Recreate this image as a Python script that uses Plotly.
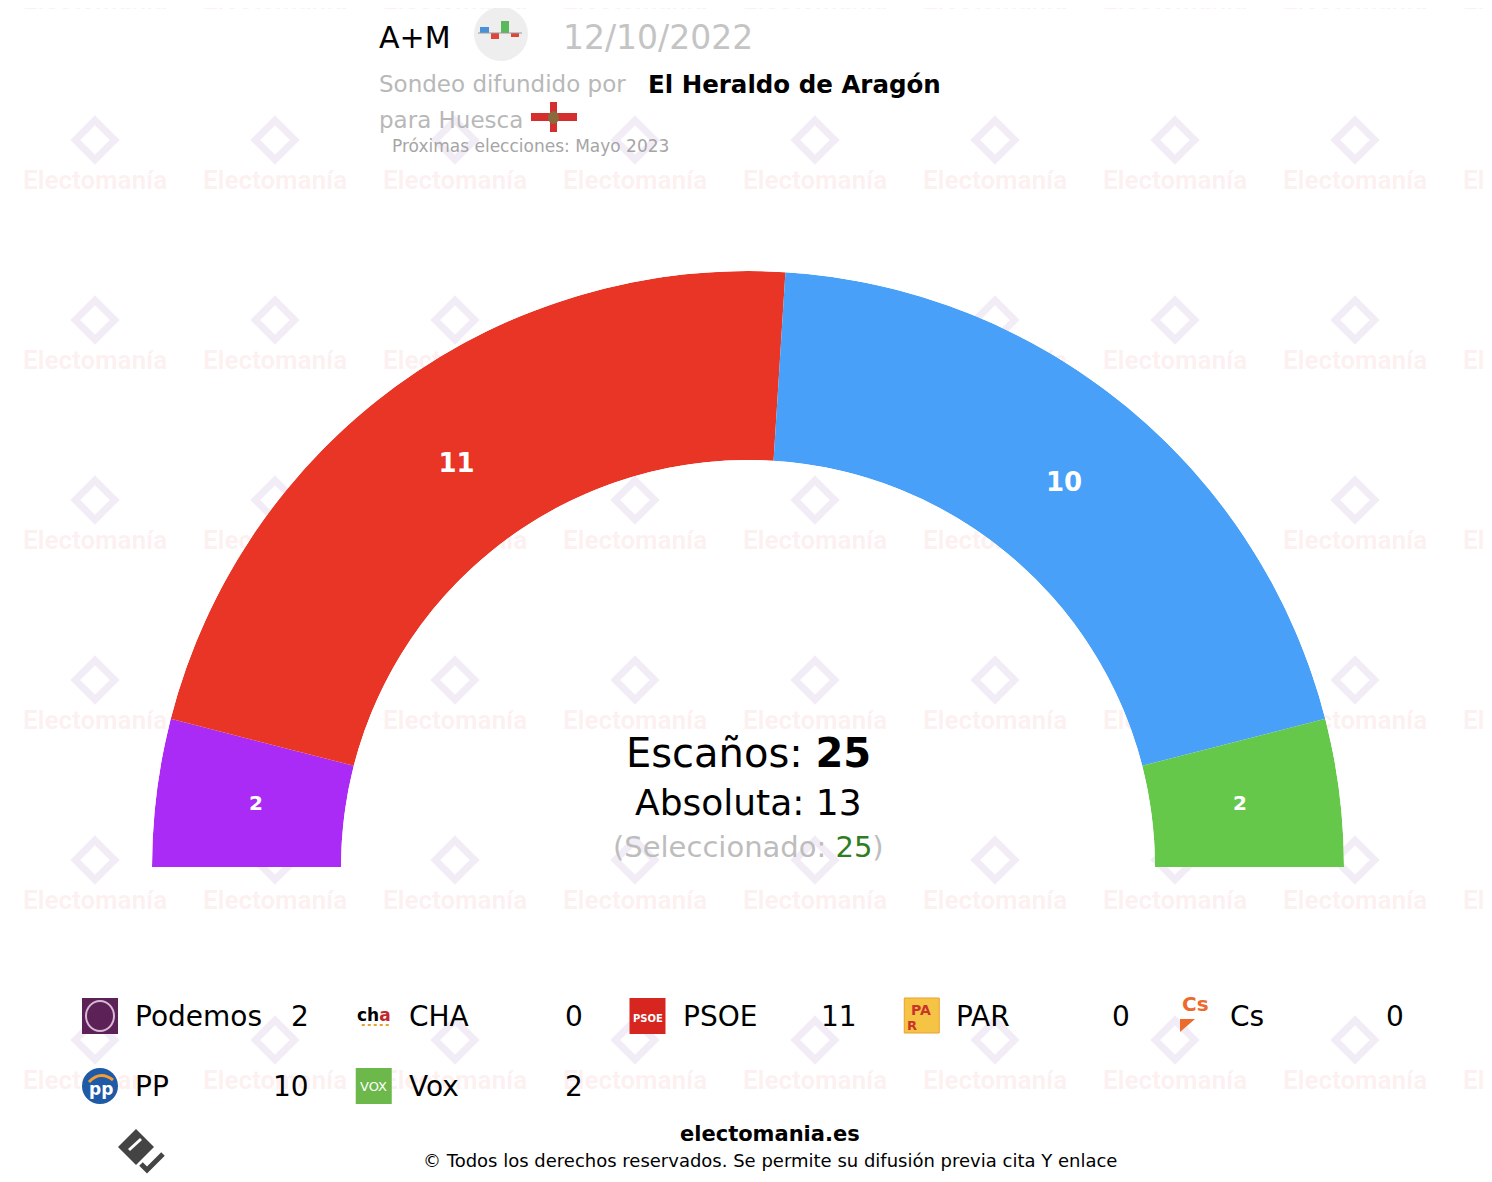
import plotly.graph_objects as go

# datos del sondeo
parties = ["Podemos", "CHA", "PSOE", "PAR", "Cs", "PP", "Vox"]
seats = [2, 0, 11, 0, 0, 10, 2]
colors = ["#aa2bf5", "#b5121b", "#e83526", "#f5b800", "#eb6109", "#48a0f8", "#66c84a"]

pollster = "A+M"
poll_date = "12/10/2022"
media = "El Heraldo de Aragón"
place = "Huesca"
next_election = "Mayo 2023"
selected = 25

total = sum(seats)
majority = total // 2 + 1
deg = 180 / total

W, H = 1492, 1182
OFF = 8  # margen del body de la página
FONT = "DejaVu Sans"

# posiciones de cada arco en grados (0 = izquierda, 180 = derecha)
theta_mid, widths, start = [], [], 0
for s in seats:
    theta_mid.append((start + s / 2) * deg)
    widths.append(s * deg)
    start += s

shown = [i for i, s in enumerate(seats) if s > 0]

fig = go.Figure()

# marca de agua de fondo
wm_x, wm_y, logo_y = [], [], []
for j in range(7):
    for k in range(9):
        wm_x.append(95 + 180 * k)
        wm_y.append(2 + 180 * j)
        logo_y.append(2 + 180 * j - 42)
fig.add_trace(go.Scatter(
    x=wm_x, y=logo_y, mode="markers", hoverinfo="skip",
    marker=dict(symbol="square-open", angle=45, size=28,
                color="rgba(190,160,215,0.2)", line=dict(width=7, color="rgba(200,165,215,0.2)")),
))
fig.add_trace(go.Scatter(
    x=wm_x, y=wm_y, mode="text", text=["<b>Electomanía</b>"] * len(wm_x), hoverinfo="skip",
    textfont=dict(family="Roboto", size=26, color="rgba(240,140,140,0.13)"),
))

fig.add_trace(go.Barpolar(
    theta=[theta_mid[i] for i in shown],
    width=[widths[i] for i in shown],
    r=[1] * len(shown),
    base=0,
    marker=dict(color=[colors[i] for i in shown], line=dict(width=0)),
    text=[parties[i] for i in shown],
    hoverinfo="text",
))
fig.add_trace(go.Scatterpolar(
    theta=[theta_mid[i] for i in shown],
    r=[0.47] * len(shown),
    mode="text",
    text=["<b>%d</b>" % seats[i] for i in shown],
    textfont=dict(family=FONT, color="white",
                  size=[26 if seats[i] > 5 else 20 for i in shown]),
    hoverinfo="skip",
))

ann = []
shapes = []


def txt(x, y, t, size, color="black", anchor="left"):
    ann.append(dict(x=x, y=y, xref="x", yref="y", text=t, showarrow=False,
                    xanchor=anchor, yanchor="middle",
                    font=dict(family=FONT, size=size, color=color)))


def rect(x0, y0, x1, y1, color, line=None):
    shapes.append(dict(type="rect", xref="x", yref="y", x0=x0, y0=y0, x1=x1, y1=y1,
                       fillcolor=color, line=dict(width=0) if line is None else line))


# cabecera
txt(377, 37, pollster, 30)
shapes.append(dict(type="circle", xref="x", yref="y", x0=474, y0=7, x1=528, y1=61,
                   fillcolor="#eeeeee", line=dict(width=0)))
rect(480, 27, 489, 33, "#4a90d9")
rect(491, 33, 499, 39, "#e0453a")
rect(501, 21, 509, 33, "#5cb85c")
rect(511, 33, 519, 37, "#e0453a")
shapes.append(dict(type="line", xref="x", yref="y", x0=478, y0=33, x1=522, y1=33,
                   line=dict(color="#999999", width=1)))
txt(561, 37, poll_date, 33, "#c4c4c4")
txt(377, 84, "Sondeo difundido por", 23, "#b8b8b8")
txt(646, 84, "<b>%s</b>" % media, 24.5)
txt(377, 120, "para " + place, 23, "#b8b8b8")
rect(531, 113, 577, 121, "#d42e2e")
rect(550, 102, 557, 132, "#d42e2e")
shapes.append(dict(type="circle", xref="x", yref="y", x0=548, y0=111, x1=559, y1=124,
                   fillcolor="#8a6a3a", line=dict(width=0)))
txt(390, 146, "Próximas elecciones: " + next_election, 17, "#a5a5a5")

# centro
txt(748, 753, "Escaños: <b>%d</b>" % total, 40, anchor="center")
txt(748, 802, "Absoluta: %d" % majority, 36, anchor="center")
txt(748, 847, "(Seleccionado: <span style='color:#2f7d1f'>%d</span>)" % selected, 29,
    "#bdbdbd", anchor="center")

# leyenda
for i, name in enumerate(parties):
    col, row = i % 5, i // 5
    x0 = 82 + 273.75 * col
    y = 1016 + 70 * row
    if name == "Podemos":
        rect(x0, y - 18, x0 + 36, y + 18, "#5c2157")
        shapes.append(dict(type="circle", xref="x", yref="y", x0=x0 + 4, y0=y - 15,
                           x1=x0 + 32, y1=y + 15, line=dict(color="#d9b8d6", width=2)))
    elif name == "CHA":
        txt(x0 + 18, y - 1, "<b>ch<span style='color:#c0282d'>a</span></b>", 17,
            anchor="center")
        shapes.append(dict(type="line", xref="x", yref="y", x0=x0 + 6, y0=y + 9,
                           x1=x0 + 34, y1=y + 9, line=dict(color="#e8a030", width=2, dash="dot")))
    elif name == "PSOE":
        rect(x0, y - 18, x0 + 36, y + 18, "#d7261f")
        txt(x0 + 18, y + 2, "<b>PSOE</b>", 10, "white", anchor="center")
    elif name == "PAR":
        shapes.append(dict(type="rect", xref="x", yref="y", x0=x0 + 1, y0=y - 18,
                           x1=x0 + 36, y1=y + 17, fillcolor="#f6c445",
                           line=dict(color="#e8a030", width=1)))
        txt(x0 + 18, y - 6, "<b>PA</b>", 14, "#c8352a", anchor="center")
        txt(x0 + 9, y + 9, "<b>R</b>", 13, "#c8352a", anchor="center")
    elif name == "Cs":
        txt(x0 + 18, y - 12, "<b>Cs</b>", 20, "#ec6a2c", anchor="center")
        shapes.append(dict(type="path", xref="x", yref="y",
                           path="M %f %f L %f %f L %f %f Z" % (x0 + 3, y + 3, x0 + 18, y + 3, x0 + 3, y + 16),
                           fillcolor="#ec6a2c", line=dict(width=0)))
    elif name == "PP":
        shapes.append(dict(type="circle", xref="x", yref="y", x0=x0, y0=y - 18, x1=x0 + 36,
                           y1=y + 18, fillcolor="#1f5aa6", line=dict(width=0)))
        shapes.append(dict(type="path", xref="x", yref="y",
                           path="M %f %f Q %f %f %f %f" % (x0 + 7, y - 4, x0 + 18, y - 16, x0 + 31, y - 6),
                           line=dict(color="#f39c33", width=3)))
        txt(x0 + 19, y + 3, "<b>pp</b>", 17, "white", anchor="center")
    elif name == "Vox":
        rect(x0, y - 18, x0 + 36, y + 18, "#6cb84a")
        txt(x0 + 18, y, "VOX", 13, "white", anchor="center")
    txt(x0 + 51, y, name, 28)
    txt(x0 + 229, y, str(seats[i]), 28, anchor="right")

# pie
shapes.append(dict(type="path", xref="x", yref="y",
                   path="M 136 1129 L 154 1147 L 136 1165 L 118 1147 Z",
                   fillcolor="#444444", line=dict(width=0)))
shapes.append(dict(type="line", xref="x", yref="y", x0=129, y0=1150, x1=141, y1=1139,
                   line=dict(color="white", width=3)))
shapes.append(dict(type="path", xref="x", yref="y",
                   path="M 141 1164 L 147 1170 L 163 1154",
                   line=dict(color="#444444", width=5)))
txt(770, 1134, "<b>electomania.es</b>", 21, anchor="center")
txt(770, 1160, "© Todos los derechos reservados. Se permite su difusión previa cita Y enlace",
    18, anchor="center")

fig.update_layout(
    width=W, height=H,
    margin=dict(l=0, r=0, t=0, b=0),
    paper_bgcolor="white",
    plot_bgcolor="rgba(0,0,0,0)",
    showlegend=False,
    xaxis=dict(range=[OFF, W + OFF], visible=False, fixedrange=True, domain=[0, 1]),
    yaxis=dict(range=[H + OFF, OFF], visible=False, fixedrange=True, domain=[0, 1]),
    polar=dict(
        domain=dict(x=[(152 - OFF) / W, (1344 - OFF) / W],
                    y=[1 - (867 - OFF) / H, 1 - (271 - OFF) / H]),
        sector=[0, 180],
        hole=407 / 596,
        bgcolor="rgba(0,0,0,0)",
        radialaxis=dict(range=[0, 1], visible=False),
        angularaxis=dict(visible=False, rotation=180, direction="clockwise"),
    ),
    annotations=ann,
    shapes=shapes,
)

fig.write_html("out.html")
